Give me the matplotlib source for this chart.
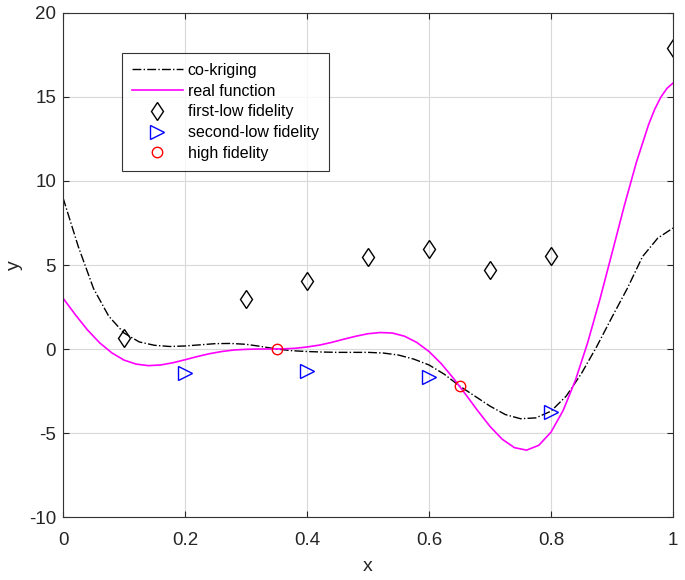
import matplotlib
matplotlib.use("Agg")
from matplotlib import pyplot as plt

plt.rcParams['font.family'] = ['Liberation Sans', 'DejaVu Sans']
plt.rcParams['axes.unicode_minus'] = False

# real function
x_real = [0.00, 0.02, 0.04, 0.06, 0.08, 0.10, 0.12, 0.14, 0.16, 0.18,
          0.20, 0.22, 0.24, 0.26, 0.28, 0.30, 0.32, 0.34, 0.36, 0.38,
          0.40, 0.42, 0.44, 0.46, 0.48, 0.50, 0.52, 0.54, 0.56, 0.58,
          0.60, 0.62, 0.64, 0.66, 0.68, 0.70, 0.72, 0.74, 0.76, 0.78,
          0.80, 0.82, 0.84, 0.86, 0.88, 0.90, 0.92, 0.94, 0.96, 0.97,
          0.98, 0.99, 1.00]
y_real = [3.03, 2.05, 1.14, 0.37, -0.23, -0.66, -0.90, -0.99, -0.95, -0.82,
          -0.64, -0.45, -0.28, -0.15, -0.06, -0.02, 0.00, 0.00, 0.01, 0.04,
          0.12, 0.23, 0.39, 0.58, 0.76, 0.91, 0.98, 0.95, 0.76, 0.39,
          -0.15, -0.87, -1.74, -2.70, -3.68, -4.61, -5.37, -5.87, -6.02, -5.73,
          -4.95, -3.65, -1.86, 0.37, 2.94, 5.71, 8.51, 11.12, 13.36, 14.27,
          14.99, 15.51, 15.83]

# co-kriging prediction (dash-dot black)
x_ck = [0.000, 0.025, 0.050, 0.075, 0.100, 0.125, 0.150, 0.175, 0.200, 0.225,
        0.250, 0.275, 0.300, 0.325, 0.350, 0.375, 0.400, 0.425, 0.450, 0.475,
        0.500, 0.525, 0.550, 0.575, 0.600, 0.625, 0.650, 0.675, 0.700, 0.725,
        0.750, 0.775, 0.800, 0.825, 0.850, 0.875, 0.900, 0.925, 0.950, 0.975, 1.000]
y_ck = [9.0, 6.1, 3.6, 1.95, 0.95, 0.42, 0.22, 0.15, 0.18, 0.25,
        0.32, 0.33, 0.28, 0.15, 0.00, -0.10, -0.15, -0.18, -0.20, -0.20,
        -0.20, -0.24, -0.36, -0.60, -0.95, -1.50, -2.20, -2.80, -3.40, -3.90,
        -4.15, -4.10, -3.70, -2.80, -1.45, 0.15, 1.90, 3.60, 5.50, 6.60, 7.20]

# sample points
x_low1 = [0.1, 0.3, 0.4, 0.5, 0.6, 0.7, 0.8, 1.0]
y_low1 = [0.67, 2.99, 4.06, 5.45, 5.93, 4.70, 5.52, 17.91]

x_low2 = [0.2, 0.4, 0.6, 0.8]
y_low2 = [-1.42, -1.32, -1.67, -3.75]

x_high = [0.35, 0.65]
y_high = [0.0, -2.21]

fig = plt.figure(figsize=(6.85, 5.8), dpi=100)
ax = fig.add_axes([0.092, 0.1086, 0.8905, 0.869])

ax.plot(x_ck, y_ck, color="k", linestyle="-.", linewidth=1.0, label="co-kriging")
ax.plot(x_real, y_real, color="#ff00ff", linewidth=1.2, label="real function")
ax.plot(x_low1, y_low1, linestyle="none", marker="d", markersize=9.5,
        markerfacecolor="none", markeredgecolor="k", markeredgewidth=1.0,
        label="first-low fidelity")
ax.plot(x_low2, y_low2, linestyle="none", marker=">", markersize=9.5,
        markerfacecolor="none", markeredgecolor="#0000ff", markeredgewidth=1.0,
        label="second-low fidelity")
ax.plot(x_high, y_high, linestyle="none", marker="o", markersize=7.5,
        markerfacecolor="none", markeredgecolor="#ff0000", markeredgewidth=1.0,
        label="high fidelity")

ax.set_xlim(0, 1)
ax.set_ylim(-10, 20)
ax.set_xticks([0, 0.2, 0.4, 0.6, 0.8, 1])
ax.set_xticklabels(["0", "0.2", "0.4", "0.6", "0.8", "1"])
ax.set_yticks([-10, -5, 0, 5, 10, 15, 20])
ax.grid(True, color="#d9d9d9", linewidth=0.8)
ax.set_axisbelow(True)
ax.tick_params(direction="in", top=True, right=True, labelsize=13.5,
               length=4, width=0.8, colors="#262626")
ax.tick_params(axis="x", pad=11)
ax.tick_params(axis="y", pad=5)
for s in ax.spines.values():
    s.set_linewidth(0.8)
    s.set_color("#333333")

ax.set_xlabel("x", fontsize=14, labelpad=6, color="#262626")
ax.set_ylabel("y", fontsize=14, labelpad=4, color="#262626")

leg = ax.legend(loc="upper left", bbox_to_anchor=(0.0967, 0.9206), fontsize=11.5,
                frameon=True, fancybox=False, edgecolor="k", handlelength=3.2,
                labelspacing=0.36, borderpad=0.62, handletextpad=0.3,
                borderaxespad=0)
leg.get_frame().set_linewidth(0.8)

fig.savefig("out.png", dpi=100)
